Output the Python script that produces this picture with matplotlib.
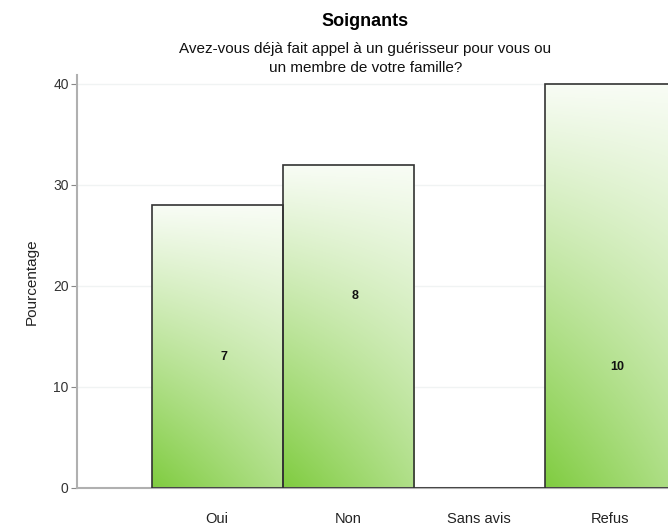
import matplotlib.pyplot as plt
import numpy as np

plt.rcParams['font.family'] = ['Liberation Sans', 'DejaVu Sans']

categories = ['Oui', 'Non', 'Sans avis', 'Refus']
percentages = [28, 32, 0, 40]
counts = [7, 8, 0, 10]
label_heights = [13.0, 19.0, 0, 12.0]  # where the count text sits, in percent

green = np.array([0.50, 0.80, 0.25])

fig = plt.figure(figsize=(6.68, 5.28), dpi=100)
ax = fig.add_axes([0.1153, 0.0758, 0.8847, 0.7827])

x = np.arange(len(categories))
bars = ax.bar(x, percentages, width=1.0, facecolor='none',
              edgecolor='#333333', linewidth=1.2, zorder=3)

# white at the top, green at the bottom, a little paler to the right
u = np.linspace(0, 1, 80)[None, :]
v = np.linspace(1, 0, 160)[:, None]
t = np.clip(0.95 * v + 0.38 * u * (1 - v), 0, 1)
grad = green * (1 - t[..., None]) + np.ones(3) * t[..., None]

for b in bars:
    if b.get_height() == 0:
        continue
    x0 = b.get_x()
    ax.imshow(grad, extent=[x0, x0 + b.get_width(), 0, b.get_height()],
              aspect='auto', zorder=2, interpolation='bilinear')

for xi, c, h in zip(x, counts, label_heights):
    if c:
        ax.text(xi + 0.05, h, str(c), ha='center', va='center',
                fontsize=9, fontweight='bold', color='#111111', zorder=4)

ax.set_xlim(-1.07, 3.44)
ax.set_ylim(0, 40.9)
ax.set_yticks([0, 10, 20, 30, 40])
ax.set_xticks(x)
ax.set_xticklabels(categories, fontsize=10.5, color='#222222')
ax.tick_params(axis='x', length=0, pad=17)
ax.tick_params(axis='y', length=4, width=0.8, color='#888888',
               labelsize=10, labelcolor='#333333', pad=2)
ax.yaxis.grid(True, color='#f0f3f3', linewidth=1, zorder=0)
ax.set_axisbelow(True)

for side in ['top', 'right']:
    ax.spines[side].set_visible(False)
ax.spines['left'].set_color('#b0b0b0')
ax.spines['bottom'].set_color('#b0b0b0')
ax.spines['left'].set_linewidth(1.5)
ax.spines['bottom'].set_linewidth(1.5)

ax.set_ylabel('Pourcentage', fontsize=11, color='#222222', labelpad=10)

fig.text(0.547, 0.96, 'Soignants', ha='center', va='center',
         fontsize=13, fontweight='bold')
fig.text(0.547, 0.89,
         'Avez-vous déjà fait appel à un guérisseur pour vous ou\n'
         'un membre de votre famille?',
         ha='center', va='center', fontsize=11, linespacing=1.45,
         color='#111111')

fig.savefig('out.png', dpi=100)
